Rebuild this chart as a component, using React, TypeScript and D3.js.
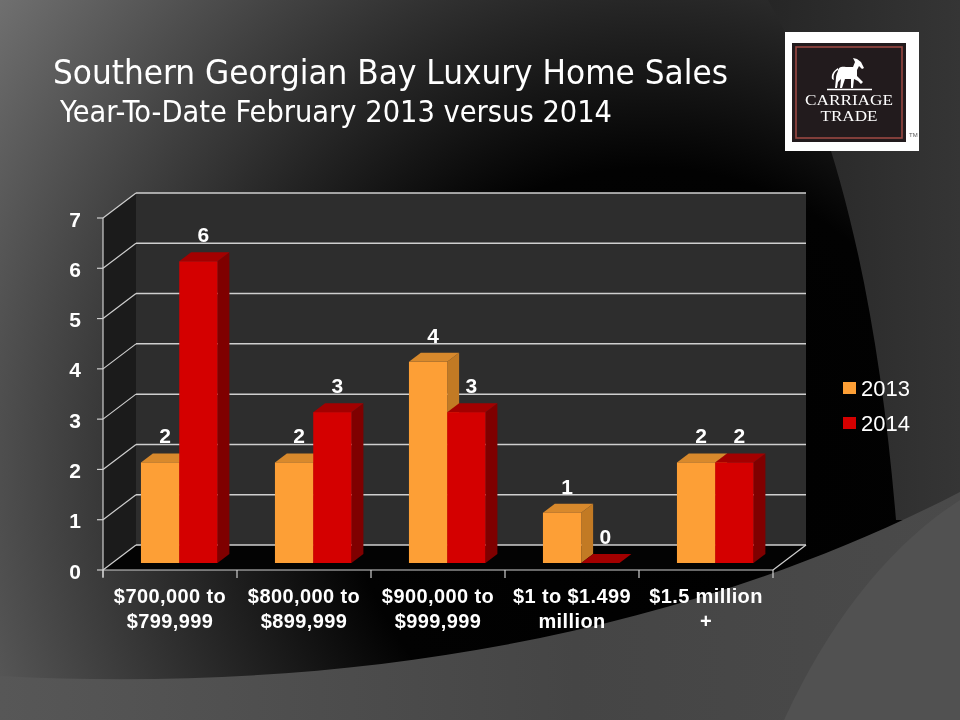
import { scaleBand, scaleLinear } from 'd3'

// Southern Georgian Bay — luxury home sales, YTD Feb 2013 vs 2014 (3D clustered columns on a dark slide)

const categories = [
  ['$700,000 to', '$799,999'],
  ['$800,000 to', '$899,999'],
  ['$900,000 to', '$999,999'],
  ['$1 to $1.499', 'million'],
  ['$1.5 million', '+'],
]
const sales2013 = [2, 2, 4, 1, 2]
const sales2014 = [6, 3, 3, 0, 2]
const yTicks = [0, 1, 2, 3, 4, 5, 6, 7]
const seriesNames = ['2013', '2014']

const W = 960
const H = 720
const FRONT = { left: 103, right: 773, bottom: 570, top: 218 }
const DX = 33
const DY = -25
// bars sit between these fractions of the floor depth
const F0 = 0.28
const F1 = 0.64

const COLORS = [
  { front: '#fd9f36', top: '#d8892c', side: '#c27a24' },
  { front: '#d40000', top: '#a30000', side: '#7f0000' },
]

const LABEL_FONT = '"Liberation Sans", Arial, sans-serif'
const TITLE_FONT = '"Liberation Sans Narrow", "DejaVu Sans Condensed", "Liberation Sans", sans-serif'
const SERIF = '"Liberation Serif", "DejaVu Serif", serif'
const GRID = '#cfcfcf'

function Logo() {
  return (
    <g>
      <rect x={785} y={32} width={134} height={119} fill="#ffffff" />
      <rect x={792} y={43} width={114} height={99} fill="#221b1d" />
      <rect x={796} y={47} width={106} height={91} fill="none" stroke="#9a4843" strokeWidth={1.6} />
      {/* rough prancing horse silhouette */}
      <path
        d="M838,71 C838,67 842,66 846,67 L853,67 L855,62 L853,58 L857,59 L861,62 L864,68 L862,69 L859,66 L857,70 L857,76 L860,79 L863,82 L861,84 L858,81 L854,79 L853,88 L851,88 L851,79 L845,79 L842,88 L840,88 L841,79 L838,82 L837,88 L835,88 L836,78 C836,76 837,73 838,71 Z M838,70 C834,72 833,76 834,80 L832,79 C831,75 833,71 838,68 Z"
        fill="#ffffff"
      />
      <line x1={827} x2={872} y1={89.5} y2={89.5} stroke="#ffffff" strokeWidth={1.6} />
      <text x={849} y={105} textAnchor="middle" fill="#ffffff" fontFamily={SERIF} fontSize={15.5} textLength={88} lengthAdjust="spacingAndGlyphs">
        CARRIAGE
      </text>
      <text x={849} y={121} textAnchor="middle" fill="#ffffff" fontFamily={SERIF} fontSize={15.5} textLength={57} lengthAdjust="spacingAndGlyphs">
        TRADE
      </text>
      <text x={909} y={137} fill="#555" fontFamily={LABEL_FONT} fontSize={6}>
        TM
      </text>
    </g>
  )
}

export default function App() {
  const x = scaleBand<number>()
    .domain(categories.map((_, i) => i))
    .range([FRONT.left, FRONT.right])
    .paddingInner(0)
    .paddingOuter(0)
  const y = scaleLinear().domain([0, 7]).range([FRONT.bottom, FRONT.top])
  const barW = x.bandwidth() / 3.5
  const sdx = (F1 - F0) * DX
  const sdy = (F1 - F0) * DY

  const backL = FRONT.left + DX
  const backR = FRONT.right + DX
  const yMax = y(7)
  const y0 = y(0)

  const bars = categories.flatMap((_, i) =>
    [sales2013[i], sales2014[i]].map((v, s) => {
      const x0 = (x(i) ?? 0) + 0.75 * barW + s * barW + F0 * DX
      const x1 = x0 + barW
      const yBot = y0 + F0 * DY
      const yTop = y(v) + F0 * DY
      return { key: `${i}-${s}`, i, s, v, x0, x1, yBot, yTop }
    }),
  )

  return (
    <div style={{ position: 'fixed', left: 0, top: 0 }}>
      <svg width={W} height={H} viewBox={`0 0 ${W} ${H}`} style={{ display: 'block' }}>
        <defs>
          <radialGradient id="bg" cx={650} cy={470} r={840} gradientUnits="userSpaceOnUse">
            <stop offset="0" stopColor="#000" />
            <stop offset="0.36" stopColor="#020202" />
            <stop offset="1" stopColor="#787878" />
          </radialGradient>
          <linearGradient id="band" x1="0" y1="0" x2="1" y2="0">
            <stop offset="0" stopColor="#262626" />
            <stop offset="1" stopColor="#353535" />
          </linearGradient>
          <linearGradient id="bottom" x1="0" y1="0" x2="1" y2="0">
            <stop offset="0" stopColor="#575757" />
            <stop offset="0.6" stopColor="#454545" />
            <stop offset="1" stopColor="#4a4a4a" />
          </linearGradient>
        </defs>

        {/* slide background */}
        <rect width={W} height={H} fill="url(#bg)" />
        <path d="M768,0 C836,120 878,300 896,520 L960,520 L960,0 Z" fill="url(#band)" />
        <path d="M0,676 C300,692 650,652 960,492 L960,720 L0,720 Z" fill="url(#bottom)" />
        <path d="M784,720 C830,620 890,545 960,500 L960,720 Z" fill="#515151" />

        {/* title */}
        <text x={53} y={84} fill="#ffffff" fontFamily={TITLE_FONT} fontSize={33} textLength={675} lengthAdjust="spacingAndGlyphs">
          Southern Georgian Bay Luxury Home Sales
        </text>
        <text x={60} y={122} fill="#ffffff" fontFamily={TITLE_FONT} fontSize={30} textLength={552} lengthAdjust="spacingAndGlyphs">
          Year-To-Date February 2013 versus 2014
        </text>

        <Logo />

        {/* 3D plot walls */}
        <polygon points={`${backL},${yMax + DY} ${backR},${yMax + DY} ${backR},${y0 + DY} ${backL},${y0 + DY}`} fill="#2d2d2d" />
        <polygon points={`${FRONT.left},${yMax} ${backL},${yMax + DY} ${backL},${y0 + DY} ${FRONT.left},${y0}`} fill="#1b1b1b" />
        <polygon points={`${FRONT.left},${y0} ${backL},${y0 + DY} ${backR},${y0 + DY} ${FRONT.right},${y0}`} fill="#030303" />

        {/* gridlines on back and side wall */}
        {yTicks.map((t) => (
          <g key={t}>
            <line x1={backL} x2={backR} y1={y(t) + DY} y2={y(t) + DY} stroke={GRID} strokeWidth={1.5} />
            <line x1={FRONT.left} x2={backL} y1={y(t)} y2={y(t) + DY} stroke={GRID} strokeWidth={1.2} />
            <line x1={FRONT.left - 6} x2={FRONT.left} y1={y(t)} y2={y(t)} stroke={GRID} strokeWidth={1.2} />
            <text x={75} y={y(t) + 1} textAnchor="middle" dominantBaseline="central" fill="#ffffff" fontFamily={LABEL_FONT} fontWeight="bold" fontSize={21}>
              {t}
            </text>
          </g>
        ))}
        <line x1={FRONT.left} x2={FRONT.left} y1={yMax} y2={y0 + 7} stroke={GRID} strokeWidth={1.2} />
        <line x1={FRONT.left} x2={FRONT.right} y1={y0} y2={y0} stroke={GRID} strokeWidth={1.2} />
        <line x1={FRONT.right} x2={backR} y1={y0} y2={y0 + DY} stroke={GRID} strokeWidth={1.2} />
        {categories.map((_, i) => (
          <line key={i} x1={x(i) ?? 0} x2={x(i) ?? 0} y1={y0} y2={y0 + 8} stroke={GRID} strokeWidth={1.2} />
        ))}
        <line x1={FRONT.right} x2={FRONT.right} y1={y0} y2={y0 + 8} stroke={GRID} strokeWidth={1.2} />

        {/* columns */}
        {bars.map((b) => {
          const c = COLORS[b.s]
          return (
            <g key={b.key}>
              <polygon
                points={`${b.x1},${b.yTop} ${b.x1 + sdx},${b.yTop + sdy} ${b.x1 + sdx},${b.yBot + sdy} ${b.x1},${b.yBot}`}
                fill={c.side}
              />
              <polygon
                points={`${b.x0},${b.yTop} ${b.x1},${b.yTop} ${b.x1 + sdx},${b.yTop + sdy} ${b.x0 + sdx},${b.yTop + sdy}`}
                fill={c.top}
              />
              <rect x={b.x0} y={b.yTop} width={b.x1 - b.x0} height={b.yBot - b.yTop} fill={c.front} />
            </g>
          )
        })}

        {/* value labels */}
        {bars.map((b) => (
          <text key={`l${b.key}`} x={(b.x0 + b.x1) / 2 + 5} y={b.yTop - 19} textAnchor="middle" fill="#ffffff" fontFamily={LABEL_FONT} fontWeight="bold" fontSize={21}>
            {b.v}
          </text>
        ))}

        {/* category labels */}
        {categories.map((lines, i) => (
          <text key={i} textAnchor="middle" fill="#ffffff" fontFamily={LABEL_FONT} fontWeight="bold" fontSize={20} letterSpacing={0.4}>
            {lines.map((ln, k) => (
              <tspan key={k} x={(x(i) ?? 0) + x.bandwidth() / 2} y={603 + k * 25}>
                {ln}
              </tspan>
            ))}
          </text>
        ))}

        {/* legend */}
        {seriesNames.map((name, s) => (
          <g key={name} transform={`translate(843, ${382 + s * 35})`}>
            <rect x={0} y={0} width={13} height={12} fill={COLORS[s].front} />
            <text x={18} y={6} dominantBaseline="central" fill="#ffffff" fontFamily={LABEL_FONT} fontSize={22}>
              {name}
            </text>
          </g>
        ))}
      </svg>
    </div>
  )
}
